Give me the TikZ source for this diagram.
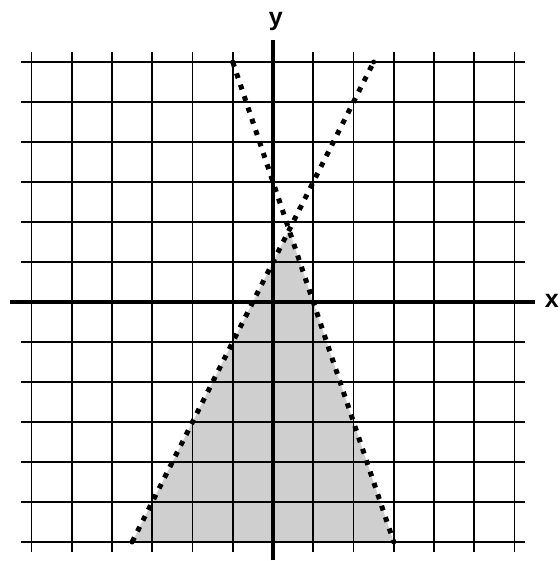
\documentclass[tikz,border=0pt]{standalone}
\usepackage{fontspec}
\setmainfont{Liberation Sans}
\begin{document}
\begin{tikzpicture}[x=40.25pt,y=40pt,
  gridline/.style={line width=1.6pt},
  majorline/.style={line width=2.5pt},
  axisline/.style={line width=4.2pt},
  dotline/.style={line width=5pt, dash pattern=on 5pt off 7pt},
  enddot/.style={circle, fill=black, inner sep=0pt, minimum size=5pt},
  axislabel/.style={font=\bfseries\fontsize{25}{25}\selectfont, inner sep=0pt, anchor=base}]
\useasboundingbox (-273pt,-259pt) rectangle (286pt,302pt);
% shaded region
\fill[gray!38] (0.4,1.8) -- (3,-6) -- (-3.5,-6) -- cycle;
% grid
\foreach \x in {-6,-5,-4,-2,-1,1,2,4,5,6} \draw[gridline] (\x,-6.25) -- (\x,6.25);
\foreach \x in {-3,3} \draw[majorline] (\x,-6.25) -- (\x,6.25);
\foreach \y in {-6,-5,-4,-3,-1,1,2,3,5,6} \draw[gridline] (-6.25,\y) -- (6.25,\y);
\foreach \y in {-2,4} \draw[majorline] (-6.25,\y) -- (6.25,\y);
% axes
\coordinate (xl) at (-6.53,0);
\coordinate (xr) at (6.51,0);
\coordinate (yb) at (0,-6.45);
\coordinate (yt) at (0,6.55);
\draw[axisline] (xl) -- (xr);
\draw[axisline] (yb) -- (yt);
\node[axislabel] (xlab) at (6.93,-0.15) {x};
\node[axislabel] (ylab) at (0.07,6.9) {y};
% boundary lines
\node[enddot] (a1) at (-1,6) {};
\node[enddot] (a2) at (3,-6) {};
\node[enddot] (b1) at (-3.5,-6) {};
\node[enddot] (b2) at (2.5,6) {};
\draw[dotline] (a1.center) -- (a2.center);
\draw[dotline] (b1.center) -- (b2.center);
\end{tikzpicture}
\end{document}
